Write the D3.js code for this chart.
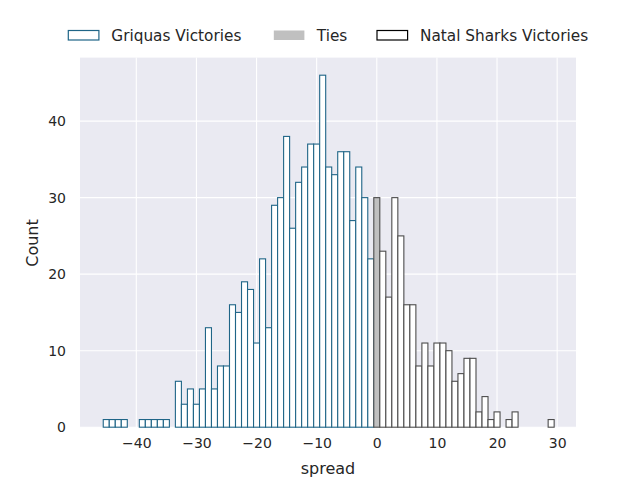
<!DOCTYPE html>
<html>
<head>
<meta charset="utf-8">
<script src="https://cdn.jsdelivr.net/npm/d3@7"></script>
<style>
  body { margin: 0; background: #fff; }
  text { font-family: "DejaVu Sans", sans-serif; fill: #262626; }
</style>
</head>
<body>
<svg id="chart" width="640" height="480"></svg>
<script>
// spread values (one bin per integer) and counts
const griquasSpread = d3.range(-45, 0);
const griquasCount = [1, 1, 1, 1, 0, 0, 1, 1, 1, 1, 1, 0, 6, 3, 5, 3, 5, 13, 5, 8,
  8, 16, 15, 19, 18, 11, 22, 13, 29, 30, 38, 26, 32, 34, 37, 37, 46, 34, 33, 36,
  36, 27, 34, 30, 22];
const tieSpread = [0];
const tieCount = [30];
const sharksSpread = d3.range(1, 30);
const sharksCount = [23, 17, 30, 25, 16, 16, 8, 11, 8, 11, 11, 10, 6, 7, 9, 9, 2, 4, 1, 2,
  0, 1, 2, 0, 0, 0, 0, 0, 1];
const xTicks = [-40, -30, -20, -10, 0, 10, 20, 30];
const yTicks = [0, 10, 20, 30, 40];
const seriesNames = ["Griquas Victories", "Ties", "Natal Sharks Victories"];

const margin = {left: 80, right: 64, top: 57.6, bottom: 52.8};
const width = 640 - margin.left - margin.right;
const height = 480 - margin.top - margin.bottom;

const svg = d3.select("#chart");
const g = svg.append("g").attr("transform", `translate(${margin.left},${margin.top})`);

// x range covers the bin edges plus matplotlib's 5% margin
let lo = d3.min(griquasSpread) - 0.5, hi = d3.max(sharksSpread) + 0.5;
let pad = (hi - lo) * 0.05;
const x = d3.scaleLinear().domain([lo - pad, hi + pad]).range([0.7, width + 0.7]);
let ymax = d3.max([...griquasCount, ...tieCount, ...sharksCount]);
const y = d3.scaleLinear().domain([0, ymax * 1.05]).range([height, 0]);

g.append("rect").attr("width", width).attr("height", height).attr("fill", "#eaeaf2");

// grid
g.selectAll(".xg").data(xTicks).join("line")
  .attr("x1", d => x(d)).attr("x2", d => x(d))
  .attr("y1", 0).attr("y2", height)
  .attr("stroke", "#fff").attr("stroke-width", 1.1);
g.selectAll(".yg").data(yTicks).join("line")
  .attr("x1", 0).attr("x2", width)
  .attr("y1", d => y(d)).attr("y2", d => y(d))
  .attr("stroke", "#fff").attr("stroke-width", 1.1);

function drawBars(spread, counts, fill, edge) {
  let data = spread.map((s, i) => ({s: s, c: counts[i]})).filter(d => d.c > 0);
  g.append("g").selectAll("rect").data(data).join("rect")
    .attr("x", d => x(d.s - 0.5))
    .attr("width", d => x(d.s + 0.5) - x(d.s - 0.5))
    .attr("y", d => y(d.c))
    .attr("height", d => y(0) - y(d.c))
    .attr("fill", fill)
    .attr("stroke", edge)
    .attr("stroke-width", 1.1);
}

drawBars(griquasSpread, griquasCount, "#fff", "#1f6587");
drawBars(tieSpread, tieCount, "#c0c0c0", "#4d4d4d");
drawBars(sharksSpread, sharksCount, "#fff", "#4d4d4d");

// axes tick labels
const xAxis = d3.axisBottom(x).tickValues(xTicks).tickSize(0).tickPadding(11)
  .tickFormat(d => d3.format("d")(d).replace("-", "\u2212"));
const gx = g.append("g").attr("transform", `translate(0,${height})`).call(xAxis);
gx.select(".domain").remove();
gx.selectAll("text").style("font-size", "14px").attr("fill", "#262626")
  .style("font-family", "DejaVu Sans");

const yAxis = d3.axisLeft(y).tickValues(yTicks).tickSize(0).tickPadding(14);
const gy = g.append("g").call(yAxis);
gy.select(".domain").remove();
gy.selectAll("text").style("font-size", "14px").attr("fill", "#262626")
  .style("font-family", "DejaVu Sans");

// axis labels
svg.append("text").attr("x", margin.left + width / 2).attr("y", 474)
  .attr("text-anchor", "middle").style("font-size", "16px").text("spread");
svg.append("text").attr("transform", "translate(38,243) rotate(-90)")
  .attr("text-anchor", "middle").style("font-size", "16px").text("Count");

// legend
const legendX = [68.3, 273.8, 377];
const legendFill = ["#fff", "#c0c0c0", "#fff"];
const legendEdge = ["#1f6587", "none", "#000"];
const lg = svg.append("g");
seriesNames.forEach((name, i) => {
  lg.append("rect").attr("x", legendX[i]).attr("y", 30.5)
    .attr("width", 30.6).attr("height", 9.5)
    .attr("fill", legendFill[i]).attr("stroke", legendEdge[i]).attr("stroke-width", 1.2);
  lg.append("text").attr("x", legendX[i] + 43).attr("y", 40.5)
    .style("font-size", "15.3px").text(name);
});
</script>
</body>
</html>
